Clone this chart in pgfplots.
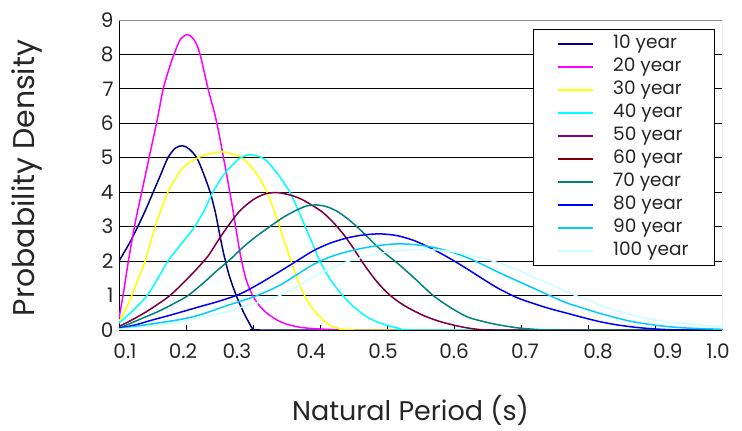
\documentclass[border=0pt]{standalone}
\usepackage{fontspec}
\setmainfont{Poppins}
\usepackage{pgfplots}
\pgfplotsset{compat=1.18}
\definecolor{c10}{HTML}{000080}
\definecolor{c20}{HTML}{FF00FF}
\definecolor{c30}{HTML}{FFFF00}
\definecolor{c40}{HTML}{00FFFF}
\definecolor{c50}{HTML}{800080}
\definecolor{c60}{HTML}{800000}
\definecolor{c70}{HTML}{008080}
\definecolor{c80}{HTML}{0000FF}
\definecolor{c90}{HTML}{00CCFF}
\definecolor{c100}{HTML}{CCFFFF}
\begin{document}
\begin{tikzpicture}
\useasboundingbox (-119pt,-101pt) rectangle (623pt,330pt);
\begin{axis}[
  at={(0,0)}, anchor=south west,
  scale only axis, width=603pt, height=310pt,
  xmin=0.1, xmax=1.0, ymin=0, ymax=9,
  axis x line*=bottom, axis y line*=left,
  axis line style={black, line width=0.9pt},
  ytick={0,1,...,9},
  xtick={0.2,0.3,0.4,0.5,0.6,0.7,0.8,0.9},
  xticklabels={},
  extra x ticks={0.109,0.1955,0.276,0.3866,0.494,0.600,0.706,0.815,0.919,0.994},
  extra x tick labels={0.1,0.2,0.3,0.4,0.5,0.6,0.7,0.8,0.9,1.0},
  extra x tick style={major tick length=0pt, grid=none},
  tick align=inside,
  xtick style={black, line width=0.8pt},
  x tick label style={font=\fontsize{20}{20}\selectfont, text=black!85, yshift=-10pt},
  y tick label style={font=\fontsize{20}{20}\selectfont, text=black!85, xshift=-2pt},
  ytick style={draw=none},
  major tick length=5pt,
  ymajorgrids,
  grid style={black, line width=0.9pt},
  /pgf/number format/assume math mode=true,
  xlabel={Natural Period (s)},
  ylabel={Probability Density},
  xlabel style={font=\fontsize{27}{27}\selectfont, text=black!85, at={(axis description cs:0.5,0)}, anchor=center, yshift=-80pt, xshift=-10pt},
  ylabel style={font=\fontsize{30}{30}\selectfont, text=black!85, at={(axis description cs:-0.152,0.49)}, anchor=center},
  legend style={at={(1,1)}, anchor=north east, xshift=-7pt, yshift=-9pt,
    draw=black, line width=0.9pt, fill=white,
    font=\fontsize{18.5}{18.5}\selectfont, text=black!85,
    inner xsep=24pt, inner ysep=3pt, column sep=17pt,
    nodes={text height=12.5pt, text depth=3.5pt, inner ysep=3.5pt, inner xsep=2pt}},
  legend cell align=left,
  legend image code/.code={\draw[line width=2pt,#1] (0pt,0pt) -- (35pt,0pt);},
  every axis plot/.append style={smooth, tension=0.5, line width=1.5pt},
]
\addplot[c10] coordinates {(0.1,2.0) (0.115,2.5) (0.128,3.0) (0.14,3.5) (0.151,4.0) (0.162,4.5) (0.173,5.0) (0.184,5.28) (0.195,5.35) (0.205,5.25) (0.216,5.0) (0.226,4.55) (0.236,4.0) (0.244,3.4) (0.25,2.8) (0.257,2.15) (0.265,1.55) (0.275,1.0) (0.285,0.55) (0.293,0.25) (0.30,0.03) (0.31,0) (0.5,0) (1.0,0)};
\addlegendentry{10 year}
\addplot[c20] coordinates {(0.1,0.35) (0.106,1.0) (0.114,2.0) (0.124,3.1) (0.135,4.1) (0.146,5.1) (0.157,6.1) (0.166,7.0) (0.175,7.6) (0.182,8.0) (0.192,8.45) (0.203,8.57) (0.213,8.4) (0.221,8.0) (0.233,7.0) (0.245,6.1) (0.257,4.9) (0.269,3.6) (0.281,2.2) (0.29,1.45) (0.3,0.98) (0.31,0.7) (0.32,0.5) (0.335,0.3) (0.35,0.17) (0.37,0.08) (0.39,0.04) (0.42,0.01) (0.44,0) (0.6,0) (1.0,0)};
\addlegendentry{20 year}
\addplot[c30] coordinates {(0.1,0.25) (0.11,0.6) (0.119,1.0) (0.129,1.5) (0.139,2.0) (0.154,3.0) (0.173,4.0) (0.195,4.7) (0.218,5.0) (0.237,5.13) (0.255,5.17) (0.27,5.1) (0.285,4.98) (0.303,4.6) (0.321,4.0) (0.337,3.15) (0.349,2.45) (0.36,1.83) (0.369,1.35) (0.378,0.96) (0.389,0.62) (0.4,0.38) (0.41,0.2) (0.42,0.09) (0.435,0.02) (0.45,0) (0.7,0) (1.0,0)};
\addlegendentry{30 year}
\addplot[c40] coordinates {(0.1,0.2) (0.12,0.55) (0.142,1.0) (0.158,1.5) (0.173,2.0) (0.193,2.5) (0.213,3.0) (0.228,3.5) (0.24,4.0) (0.258,4.55) (0.278,4.95) (0.29,5.07) (0.30,5.08) (0.31,5.03) (0.321,4.9) (0.338,4.5) (0.355,4.0) (0.367,3.5) (0.378,3.0) (0.389,2.5) (0.40,2.0) (0.416,1.45) (0.434,1.0) (0.45,0.68) (0.47,0.38) (0.49,0.2) (0.505,0.11) (0.52,0.04) (0.535,0) (0.8,0) (1.0,0)};
\addlegendentry{40 year}
\addplot[c50] coordinates {(0.1,0.1) (0.12,0.3) (0.14,0.52) (0.158,0.75) (0.176,1.0) (0.195,1.35) (0.215,1.75) (0.233,2.15) (0.248,2.6) (0.262,3.0) (0.28,3.45) (0.3,3.78) (0.318,3.95) (0.336,3.99) (0.355,3.92) (0.372,3.8) (0.39,3.6) (0.405,3.4) (0.42,3.12) (0.435,2.78) (0.45,2.37) (0.465,1.92) (0.485,1.4) (0.505,1.0) (0.525,0.72) (0.55,0.46) (0.575,0.27) (0.6,0.14) (0.62,0.06) (0.64,0.01) (0.66,0) (0.85,0) (1.0,0)};
\addlegendentry{50 year}
\addplot[c60, line width=0.6pt] coordinates {(0.1,0.1) (0.12,0.3) (0.14,0.52) (0.158,0.75) (0.176,1.0) (0.195,1.35) (0.215,1.75) (0.233,2.15) (0.248,2.6) (0.262,3.0) (0.28,3.45) (0.3,3.78) (0.318,3.95) (0.336,3.99) (0.355,3.92) (0.372,3.8) (0.39,3.6) (0.405,3.4) (0.42,3.12) (0.435,2.78) (0.45,2.37) (0.465,1.92) (0.485,1.4) (0.505,1.0) (0.525,0.72) (0.55,0.46) (0.575,0.27) (0.6,0.14) (0.62,0.06) (0.64,0.01) (0.66,0) (0.85,0) (1.0,0)};
\addlegendentry{60 year}
\addplot[c70] coordinates {(0.1,0.05) (0.13,0.3) (0.16,0.55) (0.185,0.8) (0.203,1.0) (0.225,1.35) (0.245,1.7) (0.266,2.05) (0.285,2.4) (0.305,2.72) (0.325,3.0) (0.345,3.27) (0.365,3.48) (0.38,3.6) (0.395,3.63) (0.41,3.58) (0.425,3.45) (0.44,3.25) (0.455,3.0) (0.47,2.72) (0.485,2.43) (0.5,2.18) (0.515,1.95) (0.54,1.52) (0.569,1.0) (0.595,0.65) (0.62,0.38) (0.645,0.24) (0.669,0.14) (0.7,0.05) (0.73,0.01) (0.75,0) (0.9,0) (1.0,0)};
\addlegendentry{70 year}
\addplot[c80] coordinates {(0.1,0.05) (0.125,0.15) (0.146,0.27) (0.18,0.45) (0.221,0.68) (0.25,0.84) (0.281,1.05) (0.31,1.35) (0.34,1.7) (0.365,2.0) (0.39,2.3) (0.415,2.52) (0.44,2.67) (0.465,2.76) (0.49,2.79) (0.515,2.74) (0.54,2.6) (0.565,2.38) (0.59,2.12) (0.615,1.83) (0.64,1.52) (0.665,1.22) (0.694,0.94) (0.72,0.76) (0.743,0.62) (0.77,0.48) (0.793,0.36) (0.818,0.24) (0.843,0.15) (0.87,0.08) (0.893,0.04) (0.92,0.01) (0.95,0) (1.0,0)};
\addlegendentry{80 year}
\addplot[c90] coordinates {(0.1,0.03) (0.15,0.18) (0.19,0.3) (0.221,0.44) (0.26,0.7) (0.306,1.0) (0.34,1.3) (0.365,1.6) (0.39,1.9) (0.415,2.12) (0.44,2.27) (0.465,2.38) (0.49,2.46) (0.515,2.5) (0.54,2.48) (0.569,2.4) (0.595,2.27) (0.62,2.1) (0.645,1.88) (0.669,1.65) (0.695,1.42) (0.718,1.22) (0.745,0.98) (0.769,0.78) (0.795,0.62) (0.818,0.48) (0.845,0.34) (0.867,0.24) (0.893,0.16) (0.918,0.1) (0.945,0.06) (0.97,0.04) (1.0,0.02)};
\addlegendentry{90 year}
\addplot[c100] coordinates {(0.1,0.02) (0.15,0.12) (0.2,0.27) (0.25,0.48) (0.29,0.7) (0.32,0.86) (0.34,1.0) (0.365,1.25) (0.39,1.54) (0.415,1.78) (0.44,1.98) (0.465,2.12) (0.49,2.23) (0.515,2.3) (0.54,2.33) (0.569,2.33) (0.595,2.28) (0.62,2.18) (0.645,2.07) (0.669,1.93) (0.695,1.75) (0.718,1.54) (0.745,1.32) (0.769,1.1) (0.795,0.9) (0.818,0.72) (0.845,0.55) (0.867,0.43) (0.893,0.32) (0.918,0.24) (0.945,0.18) (0.967,0.14) (1.0,0.1)};
\addlegendentry{100 year}
\draw[black!45, line width=0.9pt] (rel axis cs:0,1) -- (rel axis cs:1,1) -- (rel axis cs:1,0);
\end{axis}
\end{tikzpicture}
\end{document}
